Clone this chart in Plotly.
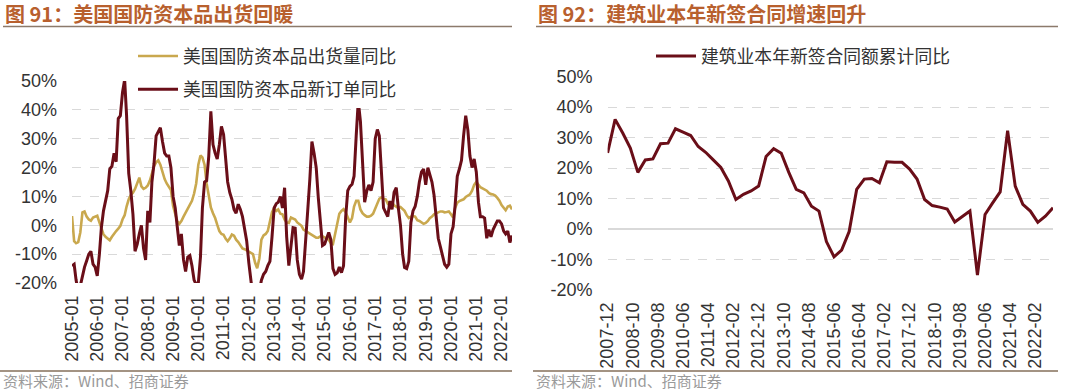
import plotly.graph_objects as go
import pandas as pd

# ---------------- data ----------------
left_ticks = ["2005-01", "2006-01", "2007-01", "2008-01", "2009-01", "2010-01",
              "2011-01", "2012-01", "2013-01", "2014-01", "2015-01", "2016-01",
              "2017-01", "2018-01", "2019-01", "2020-01", "2021-01", "2022-01"]

shipments_yoy = [
    3.2, -5.5, -6.2, -5.8, -2.5, 4.5, 4.8, 3.0, 2.0, 1.6, 2.7, 3.0,
    3.3, 1.0, -0.8, -3.1, -4.0, -4.6, -5.2, -4.0, -2.8, -2.0, -1.2, -0.2,
    2.0, 3.5, 6.5, 9.0, 10.5, 11.3, 12.6, 14.8, 16.5, 13.5, 12.6, 13.0,
    13.8, 15.5, 17.9, 20.5, 21.8, 22.5, 21.0, 18.5, 16.0, 14.5, 13.5, 12.2,
    6.7, 4.0, 1.5, 0.5, 1.5, 3.0, 4.3, 5.8, 7.5, 8.5, 11.0, 14.5,
    21.0, 24.2, 23.5, 21.0, 14.5, 9.5, 6.2, 4.2, 2.5, 0.2, -2.0, -3.0,
    -3.3, -4.7, -5.5, -4.5, -3.2, -3.6, -5.0, -5.8, -7.0, -8.0, -8.3, -8.7,
    -9.0, -9.6, -10.0, -13.0, -14.9, -11.5, -5.0, -3.5, -3.0, -2.0, 1.5, 4.5,
    6.0, 5.0, 5.5, 4.0, 3.8, 2.0, 1.0, 0.8, 2.7, 2.3, 2.0, 1.0,
    0.5, -0.2, -1.5, -2.0, -2.5, -3.0, -3.2, -4.0, -4.3, -4.3, -3.8, -3.8,
    -4.2, -4.6, -5.0, -6.2, -6.5, -3.0, 0.5, 4.0, 5.0, 5.6, 4.5, 3.0,
    1.0, 2.5, 6.5, 8.5, 8.5, 5.5, 4.2, 3.5, 3.0, 3.0, 3.3, 4.0,
    6.0, 8.0, 9.2, 9.7, 9.2, 9.0, 7.5, 8.0, 8.0, 6.9, 6.3, 6.0,
    6.3, 5.7, 5.0, 3.5, 2.5, 3.0, 3.2, 3.0, 1.8, 1.5, 1.0, 0.5,
    0.8, 1.5, 2.5, 3.0, 3.8, 4.2, 4.5, 4.8, 4.8, 4.5, 4.6, 4.8,
    3.8, 2.7, 6.0, 7.8, 8.4, 8.7, 9.0, 9.8, 10.3, 10.7, 12.0, 14.0,
    15.0, 14.0, 13.2, 12.8, 12.5, 12.0, 11.2, 10.8, 10.7, 10.3, 9.5, 8.5,
    7.0, 6.0, 5.2, 6.5, 6.8, 5.5,
]

new_orders_yoy = [
    -14.0, -13.5, -19.0, -23.0, -21.0, -17.0, -14.5, -12.3, -10.0, -9.0, -13.5, -14.5,
    -17.5, -10.0, -1.0, 5.0, 8.5, 12.0, 19.5, 20.5, 25.0, 22.0, 37.0, 38.0,
    46.0, 50.5, 38.0, 18.0, 12.0, 3.8, -9.0, -6.6, -3.0, 0.0, -8.0, -12.0,
    5.0, 1.0, 15.0, 21.5, 31.0, 32.5, 33.8, 29.0, 25.0, 24.0, 24.0, 20.0,
    10.0, 6.0, 0.0, -7.0, -3.0, -12.0, -16.0, -11.0, -10.5, -14.0, -19.0, -20.5,
    -20.0, -11.0, 6.0, 15.0, 15.5, 24.0, 39.5, 28.0, 25.0, 23.0, 28.0, 34.3,
    31.5, 24.0, 15.0, 11.3, 9.0, 5.5, 4.2, 7.3, 5.5, 3.0, -1.0, -5.4,
    -13.0, -21.0, -25.0, -26.0, -25.0, -23.0, -19.0, -17.0, -16.0, -14.0, -12.5, -4.0,
    6.0, 7.5, 8.0, 10.0, 6.0, 13.0, -4.0, -14.0, -6.6, -0.8, -1.0, -12.0,
    -17.0, -18.7, -16.0, -3.0, 5.0, 16.0, 29.0, 25.0, 20.0, 9.6, 1.0, -7.0,
    -6.5, -4.3, -2.5, -5.0, -15.0, -17.0, -16.5, -14.5, -16.4, -14.0, 3.0, 12.0,
    13.5, 14.2, 17.0, 31.0, 43.0, 36.0, 20.0, 8.0, 11.9, 14.0, 12.0, 15.0,
    30.0, 33.2, 31.0, 16.0, 6.0, 4.5, 3.0, 8.4, 5.5, 11.5, 13.0, 6.0,
    0.0, -10.0, -14.6, -15.0, -12.5, 1.0, 5.0, 6.5, 10.0, 15.0, 18.5, 19.5,
    14.0, 20.0, 17.5, 15.0, 10.5, 1.5, -4.5, -7.5, -10.5, -13.5, -14.5, -13.5,
    -3.0, -0.5, 7.0, 17.0, 19.5, 22.5, 31.0, 38.0, 33.0, 24.0, 20.0, 23.0,
    18.5, 8.0, 3.0, 3.0, 2.5, -4.5, -1.5, -4.0, -1.5, 0.3, 1.5, 1.5,
    0.5, -2.0, -3.0, -2.0, -6.0, -3.5,
]

right_ticks = ["2007-12", "2008-10", "2009-08", "2010-06", "2011-04", "2012-02",
               "2012-12", "2013-10", "2014-08", "2015-06", "2016-04", "2017-02",
               "2017-12", "2018-10", "2019-08", "2020-06", "2021-04", "2022-02"]

contract_yoy = [
    25.0,
    36.0, 31.5, 26.6, 18.6,
    22.7, 23.0, 28.0, 28.2,
    32.9, 31.8, 30.7, 27.1,
    25.2, 22.7, 20.2, 15.8,
    9.7, 11.4, 12.5, 14.1,
    23.8, 26.4, 24.9, 18.6,
    13.0, 11.9, 7.5, 5.9,
    -4.1, -9.1, -6.9, -0.8,
    13.0, 16.4, 16.6, 15.2,
    22.1, 21.9, 21.9, 19.7,
    16.4, 9.7, 7.7, 7.2,
    6.6, 2.3, 4.2, 5.9,
    -15.1, 4.8, 8.6, 12.2,
    32.3, 14.1, 8.1, 5.9,
    2.2, 4.2, 7.0,
]

y_ticks = [-20, -10, 0, 10, 20, 30, 40, 50]

# ---------------- style ----------------
W, H = 1073, 391
GOLD = "#C9A84E"
MAROON = "#6A0E18"
TITLE_C = "#B8602E"
GRID = "#D9D9D9"
TXT = "#333333"
CJK = "Noto Sans CJK SC"
LAT = "Liberation Sans, Arial, sans-serif"

left_dates = pd.date_range("2005-01-01", periods=len(shipments_yoy), freq="MS")
right_dates = pd.date_range("2007-12-01", periods=len(contract_yoy), freq="3MS")


def px(v):
    return v / W


def py(v):
    return 1 - v / H


L_dom_x = [px(72), px(512)]
L_dom_y = [py(283), py(81)]
R_dom_x = [px(607.6), px(1053)]
R_dom_y = [py(290), py(76.7)]

fig = go.Figure()
fig.add_trace(go.Scatter(x=left_dates, y=shipments_yoy, name="美国国防资本品出货量同比",
                         mode="lines", line=dict(color=GOLD, width=2.6),
                         xaxis="x", yaxis="y", legend="legend", legendgroup="a"))
fig.add_trace(go.Scatter(x=left_dates, y=new_orders_yoy, name="美国国防资本品新订单同比",
                         mode="lines", line=dict(color=MAROON, width=3),
                         xaxis="x", yaxis="y", legend="legend", legendgroup="b"))
fig.add_trace(go.Scatter(x=right_dates, y=contract_yoy, name="建筑业本年新签合同额累计同比",
                         mode="lines", line=dict(color=MAROON, width=3),
                         xaxis="x2", yaxis="y2", legend="legend2"))

tickfont = dict(family=LAT, size=18, color=TXT)


def xax(dom, dates_range, ticks, anchor):
    return dict(domain=dom, type="date", range=dates_range, anchor=anchor,
                tickmode="array", tickvals=[t + "-01" for t in ticks], ticktext=ticks,
                tickangle=-90, tickfont=tickfont, showgrid=False, zeroline=False,
                showline=False, ticks="", ticklabelstandoff=8, fixedrange=True,
                automargin=False)


def yax(dom, anchor):
    return dict(domain=dom, range=[-20, 50], anchor=anchor, tickmode="array",
                tickvals=y_ticks, ticktext=[f"{v}%" for v in y_ticks],
                tickfont=tickfont, showgrid=True, gridcolor=GRID, griddash="dash",
                gridwidth=1, zeroline=True, zerolinecolor=GRID, zerolinewidth=1.5,
                showline=False, ticks="", ticklabelstandoff=14, automargin=False,
                fixedrange=True)


def tickax(dom_x, dom_y, dates_range, ticks, over):
    pos = dom_y[0] + (0 - (-20)) / 70 * (dom_y[1] - dom_y[0])
    return dict(domain=dom_x, type="date", range=dates_range, overlaying=over,
                anchor="free", position=pos, tickmode="array",
                tickvals=[t + "-01" for t in ticks], showticklabels=False,
                ticks="outside", ticklen=5, tickcolor=GRID, tickwidth=1.2,
                showgrid=False, zeroline=False, showline=False, automargin=False)


L_range = [left_dates[0], left_dates[-1]]
R_range = [right_dates[0], right_dates[-1]]

legend_font = dict(family=CJK, size=17.8, color=TXT)

fig.update_layout(
    width=W, height=H, margin=dict(l=0, r=0, t=0, b=0, pad=0, autoexpand=False),
    paper_bgcolor="white", plot_bgcolor="white",
    xaxis=xax(L_dom_x, L_range, left_ticks, "y"),
    yaxis=yax(L_dom_y, "x"),
    xaxis2=xax(R_dom_x, R_range, right_ticks, "y2"),
    yaxis2=yax(R_dom_y, "x2"),
    xaxis3=tickax(L_dom_x, L_dom_y, L_range, left_ticks, "x"),
    xaxis4=tickax(R_dom_x, R_dom_y, R_range, right_ticks, "x2"),
    legend=dict(x=px(133), y=py(38), xanchor="left", yanchor="top",
                bgcolor="white", borderwidth=0, font=legend_font,
                tracegroupgap=7, traceorder="grouped", itemwidth=40),
    legend2=dict(x=px(651), y=py(38), xanchor="left", yanchor="top",
                 bgcolor="rgba(0,0,0,0)", borderwidth=0, font=legend_font,
                 itemwidth=40),
    showlegend=True,
)

# titles, rules and source notes
for x0, x1, title in [(3, 512, "图 91：美国国防资本品出货回暖"),
                      (536, 1058, "图 92：建筑业本年新签合同增速回升")]:
    fig.add_annotation(xref="paper", yref="paper", x=px(x0), y=py(13), xanchor="left",
                       yanchor="middle", showarrow=False, text=f"<b>{title}</b>",
                       font=dict(family=CJK, size=20, color=TITLE_C))
    fig.add_shape(type="line", xref="paper", yref="paper", x0=px(x0), x1=px(x1),
                  y0=py(26.5), y1=py(26.5), line=dict(color="#8C7A6B", width=1.5))
    fig.add_shape(type="line", xref="paper", yref="paper", x0=px(x0 - 3), x1=px(x1),
                  y0=py(371), y1=py(371), line=dict(color="#A39383", width=2))
    fig.add_annotation(xref="paper", yref="paper", x=px(x0 - 2), y=py(380.5), xanchor="left",
                       yanchor="middle", showarrow=False, text="资料来源：Wind、招商证券",
                       font=dict(family=CJK, size=15, color="#9A9A9A"))

fig.write_html("out.html",
               config={"displayModeBar": False, "staticPlot": True},
               post_script="document.body.style.margin='0px';"
                           "document.body.style.overflow='hidden';")
